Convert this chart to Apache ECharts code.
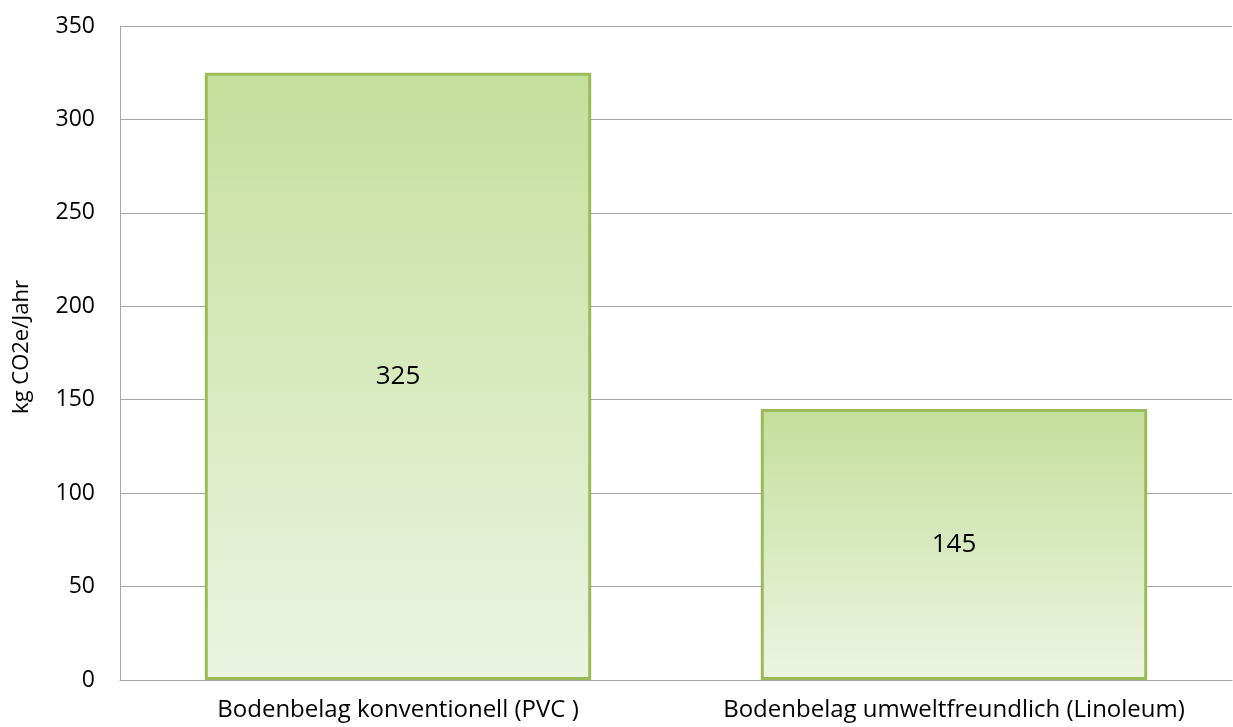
<!DOCTYPE html>
<html>
<head>
<meta charset="utf-8">
<title>Bodenbelag CO2e</title>
<script src="https://cdn.jsdelivr.net/npm/echarts@6/dist/echarts.min.js"></script>
<style>
  html, body { margin: 0; padding: 0; background: #fff; }
  #chart { width: 1233px; height: 727px; }
</style>
</head>
<body>
<div id="chart"></div>
<script>
// chart data
const categories = ['Bodenbelag konventionell (PVC )', 'Bodenbelag umweltfreundlich (Linoleum)']
const values = [325, 145]
const yTitle = 'kg CO2e/Jahr'

const chart = echarts.init(document.getElementById('chart'))
const font = '"Open Sans", "Noto Sans", sans-serif'

chart.setOption({
  animation: false,
  grid: { left: 120, right: 1, top: 26, bottom: 47 },
  xAxis: {
    type: 'category',
    data: categories,
    axisLine: { lineStyle: { color: '#a6a6a6', width: 1 } },
    axisTick: { show: false },
    axisLabel: { color: '#000', fontSize: 24, fontFamily: font, margin: 18, interval: 0, hideOverlap: false }
  },
  yAxis: {
    type: 'value',
    min: 0,
    max: 350,
    interval: 50,
    name: yTitle,
    nameLocation: 'middle',
    nameRotate: 90,
    nameGap: 87,
    nameTextStyle: { color: '#000', fontSize: 22, fontFamily: font, padding: [0, 0, 0, 12] },
    axisLine: { show: true, lineStyle: { color: '#a6a6a6', width: 1 } },
    axisTick: { show: false },
    splitLine: { lineStyle: { color: '#a6a6a6', width: 1 } },
    axisLabel: { color: '#000', fontSize: 23, fontFamily: font, margin: 25 }
  },
  series: [{
    type: 'bar',
    data: values,
    barWidth: '69.5%',
    itemStyle: {
      borderColor: '#9bbb59',
      borderWidth: 3,
      color: {
        type: 'linear', x: 0, y: 0, x2: 0, y2: 1,
        colorStops: [
          { offset: 0, color: '#c5df9c' },
          { offset: 1, color: '#ecf4e2' }
        ]
      }
    },
    label: {
      show: true,
      position: 'inside',
      color: '#000',
      fontSize: 26,
      fontFamily: font
    }
  }]
})
</script>
</body>
</html>
